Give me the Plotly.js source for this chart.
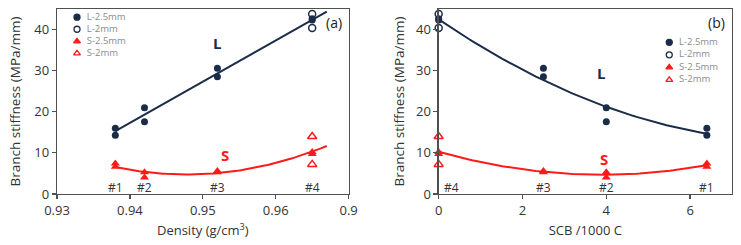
<!DOCTYPE html>
<html>
<head>
<meta charset="utf-8">
<script src="https://cdn.plot.ly/plotly-3.0.1.min.js"></script>
<style>html,body{margin:0;padding:0;background:#fff;}#chart{width:741px;height:245px;}</style>
</head>
<body>
<div id="chart"></div>
<script>
// ---- data (samples #1..#4) ----
const sampleLabels = ['#1', '#2', '#3', '#4'];
const density = [0.938, 0.942, 0.952, 0.965];   // g/cm3
const scb = [6.4, 4.0, 2.5, 0.0];                // SCB /1000 C
const L25_first = [16.0, 21.0, 30.6, 42.6];      // L-2.5mm, specimen 1
const L25_second = [14.3, 17.6, 28.5, 42.3];     // L-2.5mm, specimen 2
const S25_first = [7.4, 5.3, 5.6, 10.2];         // S-2.5mm, specimen 1
const S25_second = [6.6, 4.0, 5.3, 9.7];         // S-2.5mm, specimen 2
const L2_sample4 = [43.8, 40.4];                 // L-2mm (sample #4 only)
const S2_sample4 = [14.0, 7.2];                  // S-2mm (sample #4 only)
const legendNames = ['L-2.5mm', 'L-2mm', 'S-2.5mm', 'S-2mm'];
const fitRangeDensity = [0.938, 0.967];
const fitRangeSCB = [0, 6.4];

const NAVY = '#1b2c49';
const RED = '#ff1a1a';

// ---- least-squares polynomial fit ----
function polyfit(xs, ys, deg) {
  const mx = xs.reduce((a, b) => a + b, 0) / xs.length;
  const sx = Math.max(...xs.map(v => Math.abs(v - mx))) || 1;
  const n = deg + 1;
  const A = Array.from({length: n}, () => new Array(n + 1).fill(0));
  xs.forEach((x, k) => {
    const t = (x - mx) / sx;
    for (let i = 0; i < n; i++) {
      for (let j = 0; j < n; j++) A[i][j] += Math.pow(t, i + j);
      A[i][n] += Math.pow(t, i) * ys[k];
    }
  });
  for (let i = 0; i < n; i++) {
    let p = i;
    for (let r = i + 1; r < n; r++) if (Math.abs(A[r][i]) > Math.abs(A[p][i])) p = r;
    [A[i], A[p]] = [A[p], A[i]];
    for (let r = 0; r < n; r++) {
      if (r === i) continue;
      const f = A[r][i] / A[i][i];
      for (let c = i; c <= n; c++) A[r][c] -= f * A[i][c];
    }
  }
  const coef = A.map((row, i) => row[n] / row[i]);
  return x => { const t = (x - mx) / sx; return coef.reduce((s, c, i) => s + c * Math.pow(t, i), 0); };
}
function curve(f, range, steps) {
  const xs = [], ys = [];
  for (let i = 0; i <= steps; i++) { const x = range[0] + (range[1] - range[0]) * i / steps; xs.push(x); ys.push(f(x)); }
  return {xs, ys};
}

function panelTraces(xv, xa, ya, fitRange, degL) {
  const x4 = xv[3];
  const Lx = xv.concat(xv, [x4, x4]);
  const Ly = L25_first.concat(L25_second, L2_sample4);
  const Sx = xv.concat(xv, [x4, x4]);
  const Sy = S25_first.concat(S25_second, S2_sample4);
  const fL = curve(polyfit(Lx, Ly, degL), fitRange, 80);
  const fS = curve(polyfit(Sx, Sy, 2), fitRange, 80);
  const base = {xaxis: xa, yaxis: ya, showlegend: false, hoverinfo: 'skip'};
  const mk = Object.assign({}, base, {mode: 'markers', cliponaxis: false});
  return [
    Object.assign({}, base, {x: fL.xs, y: fL.ys, mode: 'lines', line: {color: NAVY, width: 2}}),
    Object.assign({}, base, {x: fS.xs, y: fS.ys, mode: 'lines', line: {color: RED, width: 2}}),
    Object.assign({}, mk, {name: legendNames[0], x: xv.concat(xv), y: L25_first.concat(L25_second),
      marker: {symbol: 'circle', size: 7, color: NAVY}}),
    Object.assign({}, mk, {name: legendNames[1], x: [x4, x4], y: L2_sample4,
      marker: {symbol: 'circle-open', size: 7, color: NAVY, line: {width: 1.5}}}),
    Object.assign({}, mk, {name: legendNames[2], x: xv.concat(xv), y: S25_first.concat(S25_second),
      marker: {symbol: 'triangle-up', size: 8, color: RED}}),
    Object.assign({}, mk, {name: legendNames[3], x: [x4, x4], y: S2_sample4,
      marker: {symbol: 'triangle-up-open', size: 8, color: RED, line: {width: 1.5}}})
  ];
}

// manual compact legends drawn on a hidden pixel-space axis pair
function legendTraces(x0, y0, dy) {
  const syms = ['circle', 'circle-open', 'triangle-up', 'triangle-up-open'];
  const cols = [NAVY, NAVY, RED, RED];
  return legendNames.map((nm, i) => ({
    x: [x0], y: [y0 + i * dy], text: ['  ' + nm], mode: 'markers+text', textposition: 'middle right',
    textfont: {family: 'Open Sans, sans-serif', size: 9.5, color: '#8c8c8c'},
    marker: {symbol: syms[i], size: 6, color: cols[i], line: {width: 1.3, color: cols[i]}},
    xaxis: 'x3', yaxis: 'y3', showlegend: false, hoverinfo: 'skip', cliponaxis: false
  }));
}

const data = [].concat(
  panelTraces(density, 'x', 'y', fitRangeDensity, 1),
  panelTraces(scb, 'x2', 'y2', fitRangeSCB, 2),
  legendTraces(77, 17.5, 12),
  legendTraces(669, 42.5, 12.5)
);

const FONT = 'Open Sans, sans-serif';
const axisCommon = {
  showgrid: false, zeroline: false, showline: true, mirror: true,
  linecolor: '#505050', linewidth: 1.2, ticks: 'outside', ticklen: 4, tickcolor: '#505050', tickwidth: 1.2,
  tickfont: {family: FONT, size: 13, color: '#333'}
};
const W = 741, H = 245;
const plotL = 57, plotR = 731.7, plotT = 9.3, plotB = 193.8;
const pw = plotR - plotL;

const layout = {
  width: W, height: H,
  margin: {l: plotL, r: W - plotR, t: plotT, b: H - plotB, pad: 0},
  paper_bgcolor: '#fff', plot_bgcolor: 'rgba(0,0,0,0)',
  font: {family: FONT, color: '#333'},
  xaxis: Object.assign({}, axisCommon, {
    domain: [0, (348.5 - plotL) / pw], range: [0.93, 0.97], anchor: 'y',
    tickvals: [0.93, 0.94, 0.95, 0.96, 0.97], ticktext: ['0.93', '0.94', '0.95', '0.96', '0.9'],
    title: {text: 'Density (g/cm<sup>3</sup>)', font: {family: FONT, size: 13, color: '#333'}, standoff: 8}
  }),
  yaxis: Object.assign({}, axisCommon, {
    domain: [0, 1], range: [0, 45], anchor: 'x', tickvals: [0, 10, 20, 30, 40],
    title: {text: 'Branch stiffness (MPa/mm)', font: {family: FONT, size: 13.5, color: '#333'}, standoff: 10}
  }),
  xaxis2: Object.assign({}, axisCommon, {
    domain: [(438.5 - plotL) / pw, 1], range: [0, 7], anchor: 'y2',
    tickvals: [0, 2, 4, 6],
    title: {text: 'SCB /1000 C', font: {family: FONT, size: 13, color: '#333'}, standoff: 8}
  }),
  yaxis2: Object.assign({}, axisCommon, {
    domain: [0, 1], range: [0, 45], anchor: 'x2', tickvals: [0, 10, 20, 30, 40],
    title: {text: 'Branch stiffness (MPa/mm)', font: {family: FONT, size: 13.5, color: '#333'}, standoff: 8}
  }),
  xaxis3: {domain: [0, 1], range: [plotL, plotR], visible: false, fixedrange: true, anchor: 'y3'},
  yaxis3: {domain: [0, 1], range: [plotB, plotT], visible: false, fixedrange: true, anchor: 'x3'},
  annotations: []
};

const ann = layout.annotations;
// panel (a) labels
ann.push({xref: 'x', yref: 'y', x: 0.9519, y: 36.8, text: '<b>L</b>', showarrow: false, font: {family: FONT, size: 15, color: NAVY}});
ann.push({xref: 'x', yref: 'y', x: 0.9530, y: 9.5, text: '<b>S</b>', showarrow: false, font: {family: FONT, size: 15, color: RED}});
ann.push({xref: 'x', yref: 'y', x: 0.9680, y: 41.7, text: '(a)', showarrow: false, font: {family: FONT, size: 14, color: '#222'}});
sampleLabels.forEach((s, i) => ann.push({xref: 'x', yref: 'y', x: density[i], y: 1.5, text: s, showarrow: false,
  font: {family: FONT, size: 12, color: '#333'}}));
// panel (b) labels
ann.push({xref: 'x2', yref: 'y2', x: 3.87, y: 29.4, text: '<b>L</b>', showarrow: false, font: {family: FONT, size: 15, color: NAVY}});
ann.push({xref: 'x2', yref: 'y2', x: 3.95, y: 8.6, text: '<b>S</b>', showarrow: false, font: {family: FONT, size: 15, color: RED}});
ann.push({xref: 'x2', yref: 'y2', x: 6.64, y: 41.8, text: '(b)', showarrow: false, font: {family: FONT, size: 14, color: '#222'}});
sampleLabels.forEach((s, i) => ann.push({xref: 'x2', yref: 'y2', x: scb[i], y: 1.5, text: s, showarrow: false,
  xanchor: scb[i] === 0 ? 'left' : 'center', xshift: scb[i] === 0 ? 3 : 0,
  font: {family: FONT, size: 12, color: '#333'}}));

Plotly.newPlot('chart', data, layout, {displayModeBar: false, staticPlot: true});
</script>
</body>
</html>
